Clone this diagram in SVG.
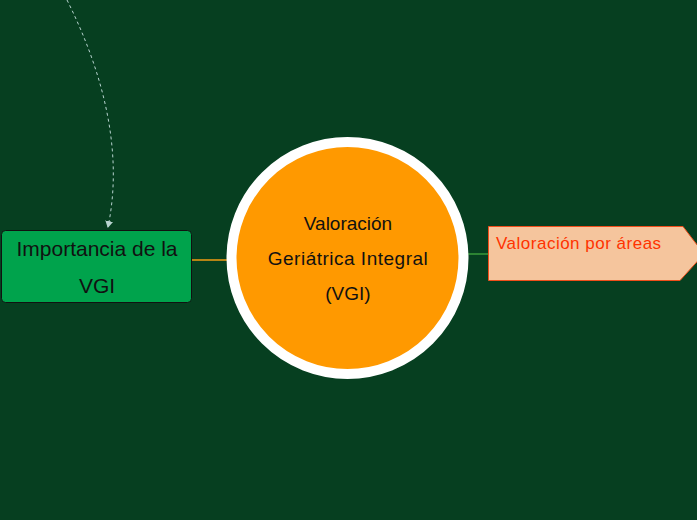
<svg xmlns="http://www.w3.org/2000/svg" width="697" height="520" viewBox="0 0 697 520">
<defs>
<style>
.t{font-family:"Liberation Sans",Arial,sans-serif;text-anchor:middle;fill:#111}
</style>
<marker id="ah" markerWidth="8" markerHeight="8" refX="6" refY="4" orient="auto" markerUnits="userSpaceOnUse">
<path d="M0,0 L7,4 L0,8 Z" fill="#b8d4d0"/>
</marker>
</defs>
<rect width="697" height="520" fill="#063f20"/>
<g id="connectors">
<path d="M67,0 C102,70 124,150 108,227" fill="none" stroke="#b8d4d0" stroke-width="1" stroke-dasharray="3,3" marker-end="url(#ah)"/>
<line x1="192" y1="260" x2="228" y2="260" stroke="#f39c12" stroke-width="1.5"/>
<line x1="468" y1="254" x2="489" y2="254" stroke="#3a9b3a" stroke-width="1.5"/>
</g>
<g id="center">
<circle cx="347.5" cy="258" r="116" fill="#ff9900" stroke="#ffffff" stroke-width="10"/>
<text class="t" font-size="19" x="348" y="230">Valoración</text>
<text class="t" font-size="19" x="348" y="265" letter-spacing="0.5">Geriátrica Integral</text>
<text class="t" font-size="19" x="348" y="300">(VGI)</text>
</g>
<g id="importancia">
<rect x="1.5" y="230.5" width="190" height="72" rx="4" fill="#00a34c" stroke="#111" stroke-width="1"/>
<text class="t" font-size="21" x="97" y="256">Importancia de la</text>
<text class="t" font-size="21" x="97" y="293">VGI</text>
</g>
<g id="areas">
<polygon points="488.5,226.5 683,226.5 704,254 680,280.5 488.5,280.5" fill="#f5c59d" stroke="#f04e1a" stroke-width="1"/>
<text font-family="Liberation Sans,Arial,sans-serif" font-size="17" letter-spacing="0.5" fill="#ff3300" x="496" y="249">Valoración por áreas</text>
</g>
</svg>
